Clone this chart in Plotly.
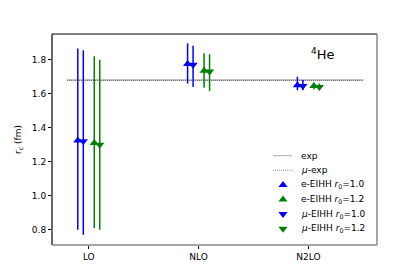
import plotly.graph_objects as go

categories = ["LO", "NLO", "N2LO"]
exp_value = 1.681
mu_exp_value = 1.6787

e_r10 = [1.325, 1.775, 1.65]
e_r10_lo = [0.80, 1.66, 1.62]
e_r10_hi = [1.865, 1.896, 1.70]

mu_r10 = [1.32, 1.77, 1.645]
mu_r10_lo = [0.77, 1.64, 1.62]
mu_r10_hi = [1.855, 1.882, 1.68]

e_r12 = [1.31, 1.735, 1.645]
e_r12_lo = [0.81, 1.635, 1.625]
e_r12_hi = [1.82, 1.838, 1.665]

mu_r12 = [1.30, 1.73, 1.64]
mu_r12_lo = [0.80, 1.616, 1.625]
mu_r12_hi = [1.80, 1.832, 1.66]

FONT = "DejaVu Sans"
BLUE = "#0000ff"
GREEN = "#008000"

# page body margin offset (browser default 8px)
OFF = 8
W, H = 420 - OFF, 280 - OFF
# plot area in page pixels
L, R, T, B = 52, 377, 34, 245

def px_x(px):
    return (px - L) / (R - L)

def px_y(py):
    return (B - py) / (B - T)

fig = go.Figure()
xs = list(range(len(categories)))

fig.add_trace(go.Scatter(x=[-0.2, 2.5], y=[exp_value]*2, mode="lines",
                         line=dict(color="#777777", width=0.6), name="exp",
                         showlegend=False))
fig.add_trace(go.Scatter(x=[-0.2, 2.5], y=[mu_exp_value]*2, mode="lines",
                         line=dict(color="#000000", width=0.7, dash="1px,1px"),
                         name="μ-exp", showlegend=False))

series = [
    ("e-EIHH <i>r</i><sub>0</sub>=1.0", e_r10, e_r10_lo, e_r10_hi, BLUE, "triangle-up", -0.1),
    ("e-EIHH <i>r</i><sub>0</sub>=1.2", e_r12, e_r12_lo, e_r12_hi, GREEN, "triangle-up", 0.05),
    ("<i>μ</i>-EIHH <i>r</i><sub>0</sub>=1.0", mu_r10, mu_r10_lo, mu_r10_hi, BLUE, "triangle-down", -0.05),
    ("<i>μ</i>-EIHH <i>r</i><sub>0</sub>=1.2", mu_r12, mu_r12_lo, mu_r12_hi, GREEN, "triangle-down", 0.1),
]
for name, v, lo, hi, col, sym, off in series:
    fig.add_trace(go.Scatter(
        x=[x + off for x in xs], y=v, mode="markers", name=name,
        showlegend=False,
        marker=dict(symbol=sym, color=col, size=8, line=dict(width=0)),
        error_y=dict(type="data", symmetric=False,
                     array=[h - c for h, c in zip(hi, v)],
                     arrayminus=[c - l for c, l in zip(v, lo)],
                     color=col, thickness=1.5, width=0),
    ))

# manual legend (compact, matplotlib-like)
legend_top = 155.7
legend_step = 14.6
sym_x = 283
line_x0, line_x1 = 273, 292
text_x = 299

legend_rows = [("exp", "line", "#777777", "solid"),
               ("<i>μ</i>-exp", "line", "#555555", "1px,1px")]
legend_rows += [(s[0], "marker", s[4], s[5]) for s in series]

for i, (label, kind, col, sty) in enumerate(legend_rows):
    py = legend_top + i * legend_step
    yy = px_y(py)
    if kind == "line":
        fig.add_shape(type="line", xref="paper", yref="paper",
                      x0=px_x(line_x0), x1=px_x(line_x1), y0=yy, y1=yy,
                      line=dict(color=col, width=0.6, dash=sty))
    else:
        fig.add_trace(go.Scatter(x=[px_x(sym_x)], y=[yy], mode="markers",
                                 xaxis="x2", yaxis="y2", showlegend=False,
                                 hoverinfo="skip",
                                 marker=dict(symbol=sty, color=col, size=8,
                                             line=dict(width=0))))
    fig.add_annotation(x=px_x(text_x), y=yy, xref="paper", yref="paper",
                       text=label, showarrow=False, xanchor="left",
                       yanchor="middle",
                       font=dict(family=FONT, size=9, color="black"))

fig.add_annotation(x=px_x(323), y=px_y(54), xref="paper", yref="paper",
                   text="<sup>4</sup>He", showarrow=False,
                   font=dict(family=FONT, size=13, color="black"),
                   xanchor="center", yanchor="middle")

# frame
fig.add_shape(type="line", xref="paper", yref="paper", x0=0, x1=1, y0=1, y1=1,
              line=dict(color="black", width=1.2))
fig.add_shape(type="line", xref="paper", yref="paper", x0=0, x1=0, y0=0, y1=1,
              line=dict(color="black", width=1.2))
fig.add_shape(type="line", xref="paper", yref="paper", x0=1, x1=1, y0=0, y1=1,
              line=dict(color="#888888", width=1.5))
fig.add_shape(type="line", xref="paper", yref="paper", x0=0, x1=1, y0=0, y1=0,
              line=dict(color="#888888", width=1.5))

fig.update_layout(
    width=W, height=H,
    margin=dict(l=L - OFF, r=420 - R, t=T - OFF, b=280 - B),
    paper_bgcolor="white", plot_bgcolor="white",
    font=dict(family=FONT, size=9, color="black"),
    showlegend=False,
    xaxis=dict(range=[-0.335, 2.625], tickvals=xs, ticktext=categories,
               showgrid=False, zeroline=False, ticks="outside", ticklen=3,
               tickcolor="black", showline=False, automargin=False),
    yaxis=dict(range=[0.71, 1.951], tickvals=[0.8, 1.0, 1.2, 1.4, 1.6, 1.8],
               ticktext=["0.8", "1.0", "1.2", "1.4", "1.6", "1.8"],
               showgrid=False, zeroline=False, ticks="outside", ticklen=3,
               tickcolor="black", showline=False, automargin=False,
               title=dict(text="r<sub>c</sub> (fm)", standoff=8,
                          font=dict(size=9))),
    xaxis2=dict(range=[0, 1], overlaying="x", visible=False, fixedrange=True),
    yaxis2=dict(range=[0, 1], overlaying="y", visible=False, fixedrange=True),
)

fig.write_html("out.html")
